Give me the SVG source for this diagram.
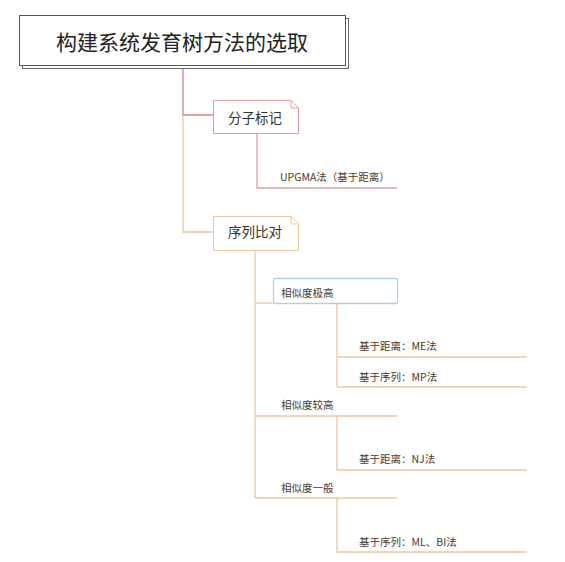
<svg xmlns="http://www.w3.org/2000/svg" width="565" height="562" viewBox="0 0 565 562">
<style>
text{font-family:"Noto Sans CJK SC","Noto Sans",sans-serif}
.title{font-size:21px;fill:#222}
.l1{font-size:13.5px;fill:#333}
.l2{font-size:10.5px;fill:#4a3a2a}
.red{stroke:#d98585;stroke-width:1.3;fill:none}
.tan{stroke:#e8c9a2;stroke-width:1.3;fill:none}
.pink{stroke:#d9a3a3;stroke-width:1.3;fill:none}
</style>
<rect width="565" height="562" fill="#fff"/>
<g id="connectors">
<path class="red" d="M183 65 V115 H213"/>
<path class="tan" d="M183 115 V232 H213"/>
<path class="pink" d="M257 133 V188 H397"/>
<path class="tan" d="M255 250 V498"/>
<path class="tan" d="M255 303 H273"/>
<path class="tan" d="M337 304 V387"/>
<path class="tan" d="M337 357 H527"/>
<path class="tan" d="M337 387 H527"/>
<path class="tan" d="M255 416 H397"/>
<path class="tan" d="M337 416 V470 H527"/>
<path class="tan" d="M255 498 H397"/>
<path class="tan" d="M337 498 V552 H527"/>
</g>
<g id="title">
<rect x="22.5" y="18.5" width="326" height="50" fill="#fff" stroke="#666" stroke-width="1"/>
<rect x="19.5" y="15.5" width="326" height="50" fill="#fff" stroke="#555" stroke-width="1"/>
<text class="title" x="182" y="49.5" text-anchor="middle">构建系统发育树方法的选取</text>
</g>
<g id="fenzi">
<path d="M213.5 100.5 H291 L298.5 108 V133.5 H213.5 Z" fill="#fff" stroke="#e0a0a0" stroke-width="1"/>
<path d="M291 100.5 V108 H298.5" fill="none" stroke="#e0a0a0" stroke-width="1"/>
<text class="l1" x="255" y="122.5" text-anchor="middle">分子标记</text>
</g>
<g id="upgma">
<text class="l2" x="280" y="181">UPGMA法（基于距离）</text>
</g>
<g id="xulie">
<path d="M213.5 216.5 H291 L298.5 224 V250.5 H213.5 Z" fill="#fff" stroke="#ecc9a0" stroke-width="1"/>
<path d="M291 216.5 V224 H298.5" fill="none" stroke="#ecc9a0" stroke-width="1"/>
<text class="l1" x="255" y="237" text-anchor="middle">序列比对</text>
</g>
<g id="jigao">
<rect x="273.5" y="278.5" width="124" height="25" rx="2" fill="#fff" stroke="#a9d3ec" stroke-width="1.3"/>
<text class="l2" x="281" y="297">相似度极高</text>
</g>
<g id="me"><text class="l2" x="359" y="350">基于距离：ME法</text></g>
<g id="mp"><text class="l2" x="359" y="381">基于序列：MP法</text></g>
<g id="jiaogao"><text class="l2" x="281" y="409">相似度较高</text></g>
<g id="nj"><text class="l2" x="359" y="463">基于距离：NJ法</text></g>
<g id="yiban"><text class="l2" x="281" y="492">相似度一般</text></g>
<g id="ml"><text class="l2" x="359" y="546">基于序列：ML、BI法</text></g>
</svg>
